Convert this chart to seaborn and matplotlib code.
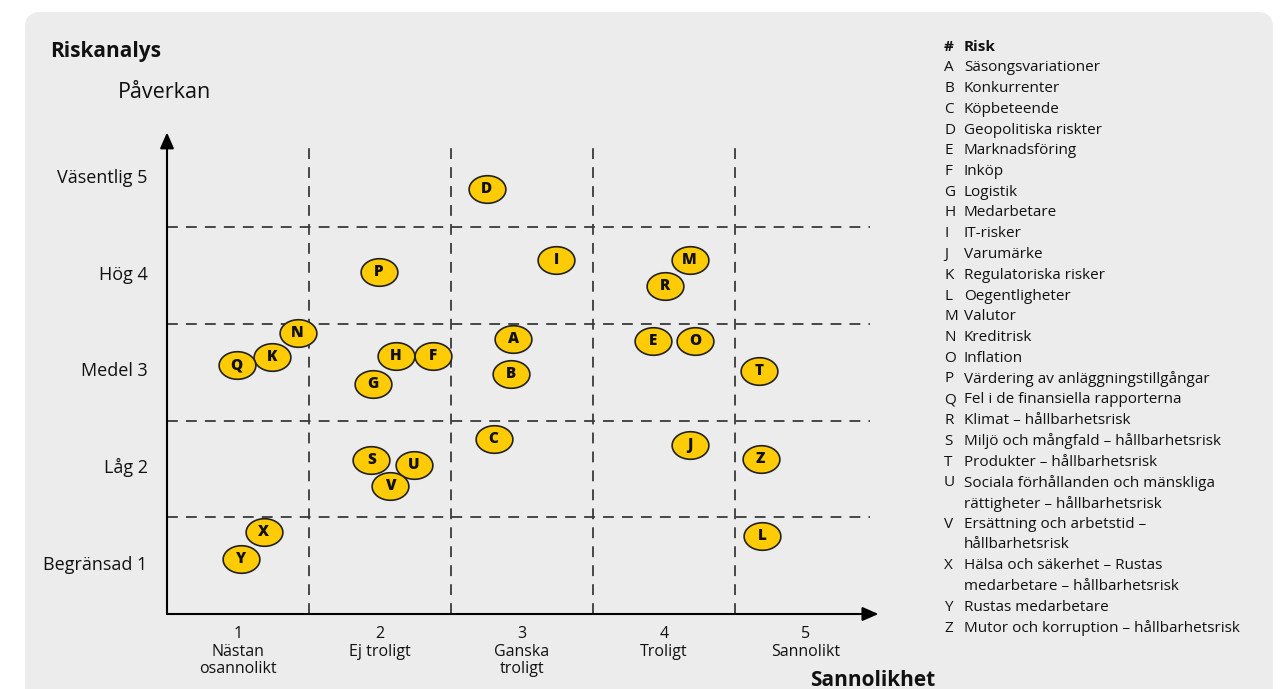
import matplotlib
matplotlib.use("Agg")
import matplotlib.pyplot as plt
import seaborn as sns
import numpy as np
import pandas as pd
from matplotlib.path import Path
from matplotlib.patches import FancyBboxPatch
from matplotlib.transforms import ScaledTranslation

# Risk matrix data: likelihood (x) and impact (y) per risk
risk_ids = list("ABCDEFGHIJKLMNOPQRSTUVXYZ")
likelihood = [2.94, 2.92, 2.80, 2.75, 3.92, 2.37, 1.95, 2.11, 3.24, 4.18,
              1.24, 4.69, 4.18, 1.42, 4.22, 1.99, 0.99, 4.01, 1.94, 4.67,
              2.24, 2.07, 1.18, 1.02, 4.68]
impact = [3.34, 2.98, 2.31, 4.90, 3.32, 3.17, 2.88, 3.17, 4.16, 2.25,
          3.16, 1.31, 4.16, 3.41, 3.32, 4.04, 3.07, 3.89, 2.09, 3.01,
          2.04, 1.82, 1.35, 1.07, 2.10]

risk_names = [
    "Säsongsvariationer",
    "Konkurrenter",
    "Köpbeteende",
    "Geopolitiska riskter",
    "Marknadsföring",
    "Inköp",
    "Logistik",
    "Medarbetare",
    "IT-risker",
    "Varumärke",
    "Regulatoriska risker",
    "Oegentligheter",
    "Valutor",
    "Kreditrisk",
    "Inflation",
    "Värdering av anläggningstillgångar",
    "Fel i de finansiella rapporterna",
    "Klimat – hållbarhetsrisk",
    "Miljö och mångfald – hållbarhetsrisk",
    "Produkter – hållbarhetsrisk",
    "Sociala förhållanden och mänskliga\nrättigheter – hållbarhetsrisk",
    "Ersättning och arbetstid –\nhållbarhetsrisk",
    "Hälsa och säkerhet – Rustas\nmedarbetare – hållbarhetsrisk",
    "Rustas medarbetare",
    "Mutor och korruption – hållbarhetsrisk",
]

x_ticks = [1, 2, 3, 4, 5]
x_labels = ["1\nNästan\nosannolikt", "2\nEj troligt", "3\nGanska\ntroligt",
            "4\nTroligt", "5\nSannolikt"]
y_ticks = [1, 2, 3, 4, 5]
y_labels = ["Begränsad 1", "Låg 2", "Medel 3", "Hög 4", "Väsentlig 5"]

df = pd.DataFrame({"id": risk_ids, "x": likelihood, "y": impact})

sns.set_theme(style="white")
plt.rcParams["font.family"] = ["Open Sans", "DejaVu Sans"]

TEXT = "#111111"
YELLOW = "#FFCB05"
DASH = "#3a3a3a"

fig = plt.figure(figsize=(12.81, 6.89), dpi=100)
fig.patch.set_facecolor("white")

# Rounded light-grey panel behind everything
panel = FancyBboxPatch((25 / 1281, -0.05), (1273 - 25) / 1281, (689 - 12) / 689 + 0.05,
                       boxstyle="round,pad=0,rounding_size=0.012",
                       transform=fig.transFigure, facecolor="#ececec",
                       edgecolor="none", zorder=-5, mutation_aspect=1281 / 689)
fig.patches.append(panel)

ax = fig.add_axes([167 / 1281, 75 / 689, 710 / 1281, 483.5 / 689])
ax.set_zorder(2)
ax.patch.set_visible(False)
ax.set_xlim(0.5, 5.5)
ax.set_ylim(0.5, 5.5)
for s in ax.spines.values():
    s.set_visible(False)

# Grid of dashed separators
for xv in [1.5, 2.5, 3.5, 4.5]:
    ax.plot([xv, xv], [0.5, 5.37], ls=(0, (6, 4.5)), color=DASH, lw=1.3, zorder=1)
for yv in [1.5, 2.5, 3.5, 4.5]:
    ax.plot([0.5, 5.45], [yv, yv], ls=(0, (6, 4.5)), color=DASH, lw=1.3, zorder=1)

# Axis arrows
ax.annotate("", xy=(0.5, 5.48), xytext=(0.5, 0.5), xycoords="data",
            arrowprops=dict(arrowstyle="-|>,head_length=0.8,head_width=0.35",
                            color="black", lw=1.5, shrinkA=0, shrinkB=0),
            annotation_clip=False, zorder=2)
ax.annotate("", xy=(5.51, 0.5), xytext=(0.5, 0.5), xycoords="data",
            arrowprops=dict(arrowstyle="-|>,head_length=0.8,head_width=0.35",
                            color="black", lw=1.5, shrinkA=0, shrinkB=0),
            annotation_clip=False, zorder=2)

# Elliptical marker
t = np.linspace(0, 2 * np.pi, 64)
ellipse = Path(np.column_stack([np.cos(t), 0.75 * np.sin(t)]), closed=True)

sns.scatterplot(data=df, x="x", y="y", marker=ellipse, s=700, color=YELLOW,
                edgecolor="#222222", linewidth=1.2, ax=ax, zorder=3, legend=False)
for rid, xv, yv in zip(df["id"], df["x"], df["y"]):
    ax.text(xv, yv, rid, ha="center", va="center", fontsize=11,
            fontweight="heavy", color=TEXT, zorder=4)

ax.set_xticks(x_ticks)
ax.set_xticklabels(x_labels, fontsize=11.5, color=TEXT, linespacing=1.15)
ax.set_yticks(y_ticks)
ax.set_yticklabels(y_labels, fontsize=13, color=TEXT)
ax.tick_params(axis="x", length=0, pad=8.5)
ax.tick_params(axis="y", length=0, pad=14)
ax.set_xlabel("")
ax.set_ylabel("")
# lift impact labels slightly
for lab in ax.get_yticklabels():
    lab.set_transform(lab.get_transform() + ScaledTranslation(0, 3 / 100, fig.dpi_scale_trans))

# Titles
fig.text(50 / 1281, 1 - 51 / 689, "Riskanalys", fontsize=15, fontweight="bold",
         color=TEXT, ha="left", va="center")
fig.text(118 / 1281, 1 - 93 / 689, "Påverkan", fontsize=15.5, color=TEXT,
         ha="left", va="center")
fig.text(873 / 1281, 1 - 681 / 689, "Sannolikhet", fontsize=15, fontweight="bold",
         color=TEXT, ha="center", va="center")

# Risk key on the right
line_h = 20.75
y0 = 47
fs = 11
fig.text(944 / 1281, 1 - y0 / 689, "#", fontsize=fs, fontweight="bold",
         color=TEXT, ha="left", va="center")
fig.text(964 / 1281, 1 - y0 / 689, "Risk", fontsize=fs, fontweight="bold",
         color=TEXT, ha="left", va="center")
row = 1
for rid, name in zip(risk_ids, risk_names):
    for k, part in enumerate(name.split("\n")):
        yp = 1 - (y0 + row * line_h) / 689
        if k == 0:
            fig.text(944 / 1281, yp, rid, fontsize=fs, color=TEXT,
                     ha="left", va="center")
        fig.text(964 / 1281, yp, part, fontsize=fs, color=TEXT,
                 ha="left", va="center")
        row += 1

fig.savefig("out.png", dpi=100)
